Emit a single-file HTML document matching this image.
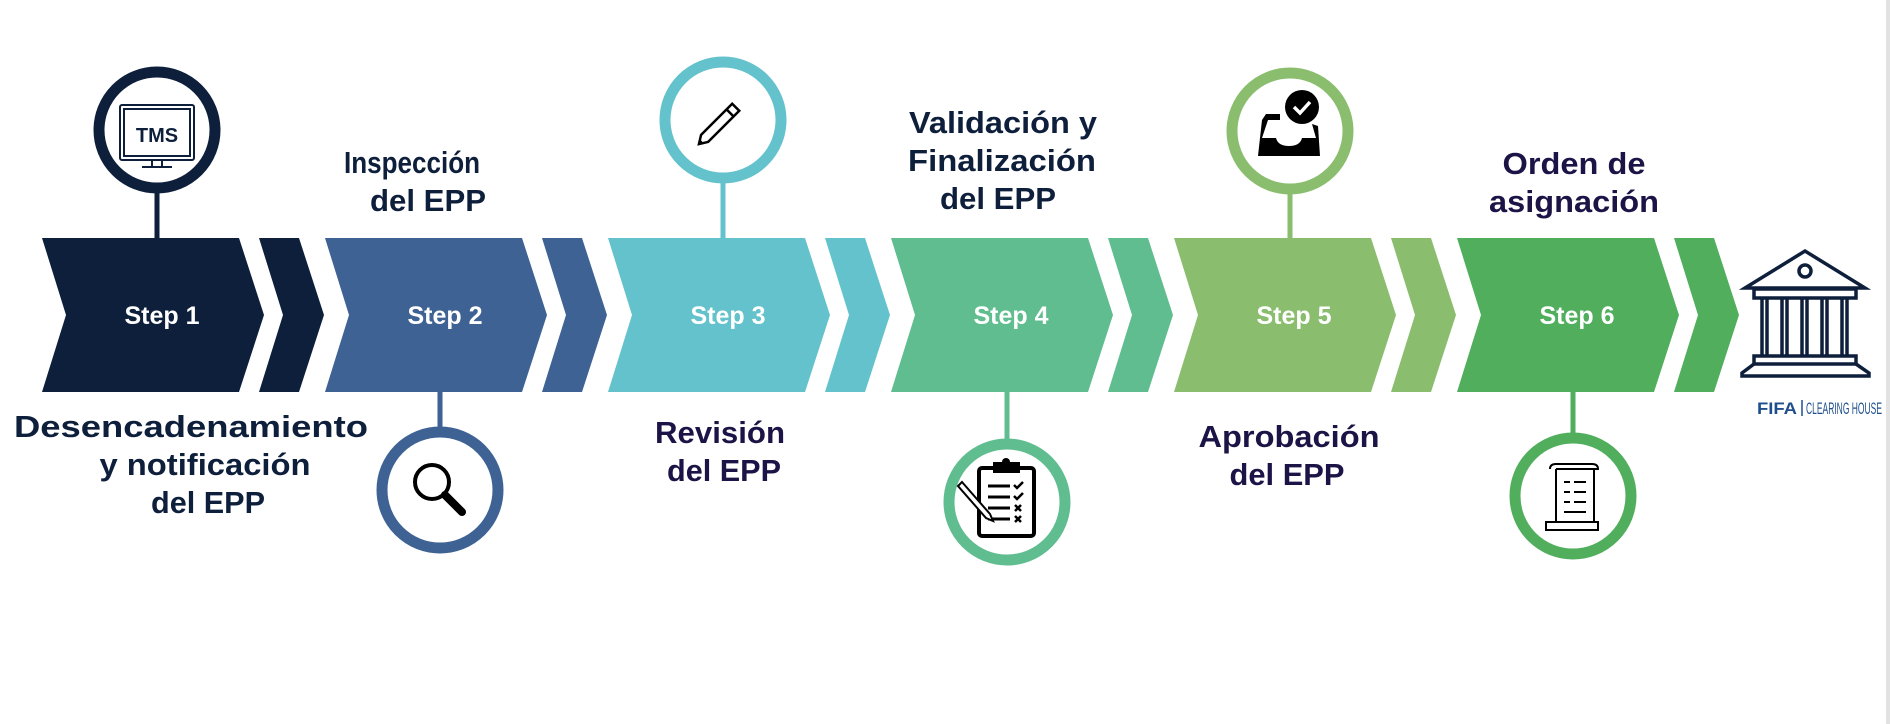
<!DOCTYPE html>
<html><head><meta charset="utf-8"><style>
html,body{margin:0;padding:0;background:#fff;}
svg{display:block;}
text{font-family:"Liberation Sans",Arial,sans-serif;font-weight:bold;}
</style></head><body>
<svg width="1890" height="724" viewBox="0 0 1890 724" xmlns="http://www.w3.org/2000/svg">
<rect x="1886" y="0" width="4" height="724" fill="#e2e2e2"/>
<g>
<path d="M42,238 L239,238 L264,315 L239,392 L42,392 L66,315 Z" fill="#0e1f3b"/>
<path d="M259,238 L299,238 L324,315 L299,392 L259,392 L283,315 Z" fill="#0e1f3b"/>
<path d="M325,238 L522,238 L547,315 L522,392 L325,392 L349,315 Z" fill="#3e6293"/>
<path d="M542,238 L582,238 L607,315 L582,392 L542,392 L566,315 Z" fill="#3e6293"/>
<path d="M608,238 L805,238 L830,315 L805,392 L608,392 L632,315 Z" fill="#63c2cc"/>
<path d="M825,238 L865,238 L890,315 L865,392 L825,392 L849,315 Z" fill="#63c2cc"/>
<path d="M891,238 L1088,238 L1113,315 L1088,392 L891,392 L915,315 Z" fill="#60bd8f"/>
<path d="M1108,238 L1148,238 L1173,315 L1148,392 L1108,392 L1132,315 Z" fill="#60bd8f"/>
<path d="M1174,238 L1371,238 L1396,315 L1371,392 L1174,392 L1198,315 Z" fill="#8abe6e"/>
<path d="M1391,238 L1431,238 L1456,315 L1431,392 L1391,392 L1415,315 Z" fill="#8abe6e"/>
<path d="M1457,238 L1654,238 L1679,315 L1654,392 L1457,392 L1481,315 Z" fill="#50ae5d"/>
<path d="M1674,238 L1714,238 L1739,315 L1714,392 L1674,392 L1698,315 Z" fill="#50ae5d"/>
</g>
<g fill="#fff" font-size="25" text-anchor="middle">
<text x="162" y="324">Step 1</text>
<text x="445" y="324">Step 2</text>
<text x="728" y="324">Step 3</text>
<text x="1011" y="324">Step 4</text>
<text x="1294" y="324">Step 5</text>
<text x="1577" y="324">Step 6</text>
</g>
<g fill="#fff" stroke-width="11">
<line x1="157" y1="190" x2="157" y2="238" stroke="#0e1f3b" stroke-width="5"/>
<circle cx="157" cy="130" r="58" stroke="#0e1f3b"/>
<line x1="440" y1="392" x2="440" y2="434" stroke="#3e6293" stroke-width="5"/>
<circle cx="440" cy="490" r="58" stroke="#3e6293"/>
<line x1="723" y1="178" x2="723" y2="238" stroke="#63c2cc" stroke-width="5"/>
<circle cx="723" cy="120" r="58" stroke="#63c2cc"/>
<line x1="1007" y1="392" x2="1007" y2="444" stroke="#60bd8f" stroke-width="5"/>
<circle cx="1007" cy="502" r="58" stroke="#60bd8f"/>
<line x1="1290" y1="190" x2="1290" y2="238" stroke="#8abe6e" stroke-width="5"/>
<circle cx="1290" cy="131" r="58" stroke="#8abe6e"/>
<line x1="1573" y1="392" x2="1573" y2="440" stroke="#50ae5d" stroke-width="5"/>
<circle cx="1573" cy="496" r="58" stroke="#50ae5d"/>
</g>
<g stroke="#0e1f3b" fill="none" stroke-width="2">
<rect x="120" y="105" width="74" height="55" rx="2"/>
<rect x="124" y="109" width="66" height="47"/>
<line x1="152" y1="160" x2="152" y2="167"/><line x1="162" y1="160" x2="162" y2="167"/>
<line x1="142" y1="167" x2="172" y2="167"/>
</g>
<text x="157" y="142" font-size="20" fill="#0e1f3b" text-anchor="middle">TMS</text>
<g stroke="#000" fill="none">
<circle cx="432" cy="482" r="17" stroke-width="4"/>
<line x1="445" y1="495" x2="462" y2="512" stroke-width="8" stroke-linecap="round"/>
</g>
<g transform="translate(723,120) rotate(-45)">
<path d="M-26,-5 L18,-5 L18,5 L-26,5 L-34,0 Z" fill="#fff" stroke="#000" stroke-width="2.5"/>
<line x1="10" y1="-5" x2="10" y2="5" stroke="#000" stroke-width="2.5"/>
<path d="M-34,0 L-30,-2 L-30,2 Z" fill="#000"/>
</g>
<g>
<rect x="979" y="468" width="55" height="68" rx="3" fill="#fff" stroke="#000" stroke-width="4"/>
<rect x="993" y="462" width="27" height="11" fill="#000"/>
<circle cx="1006" cy="462" r="4" fill="#000"/>
<g stroke="#000" stroke-width="3">
<line x1="988" y1="486" x2="1010" y2="486"/><line x1="988" y1="497" x2="1010" y2="497"/>
<line x1="988" y1="508" x2="1010" y2="508"/><line x1="988" y1="519" x2="1010" y2="519"/>
<path d="M1014,485 l3,3 l6,-6 M1014,496 l3,3 l6,-6 M1015,505 l6,6 M1021,505 l-6,6 M1015,516 l6,6 M1021,516 l-6,6" fill="none" stroke-width="2.5"/>
</g>
<path d="M962,482 L990,514 L993,521 L986,518 L958,486 Z" fill="#fff" stroke="#000" stroke-width="2"/>
</g>
<g>
<path d="M1266,114 L1280,114 L1280,120 L1268,120 L1262,138 L1276,138 Q1278,146 1289,146 Q1300,146 1302,138 L1316,138 L1312,124 L1318,126 L1320,156 L1258,156 L1262,120 Z" fill="#000"/>
<circle cx="1302" cy="107" r="17" fill="#000"/>
<path d="M1294,107 l6,6 l10,-11" fill="none" stroke="#fff" stroke-width="3.5"/>
</g>
<g fill="#fff" stroke="#000" stroke-width="2">
<path d="M1556,469 L1594,469 L1594,524 L1556,524 Z"/>
<path d="M1550,469 Q1550,464 1556,464 L1592,464 Q1598,464 1598,469 L1556,469" />
<rect x="1546" y="522" width="52" height="8"/>
<line x1="1564" y1="482" x2="1570" y2="482"/><line x1="1574" y1="482" x2="1586" y2="482"/>
<line x1="1564" y1="492" x2="1570" y2="492"/><line x1="1574" y1="492" x2="1586" y2="492"/>
<line x1="1564" y1="502" x2="1570" y2="502"/><line x1="1574" y1="502" x2="1586" y2="502"/>
<line x1="1564" y1="512" x2="1586" y2="512"/>
</g>
<g fill="none" stroke="#0e1f3b" stroke-width="3.5">
<path d="M1745,288 L1805,251 L1865,288 Z"/>
<circle cx="1805" cy="271" r="6"/>
<rect x="1754" y="289" width="102" height="9"/>
<path d="M1762,298 v58 M1767,298 v58 M1782,298 v58 M1787,298 v58 M1802,298 v58 M1807,298 v58 M1822,298 v58 M1827,298 v58 M1842,298 v58 M1847,298 v58"/>
<rect x="1754" y="356" width="102" height="8"/>
<path d="M1754,364 L1742,373 L1742,376 L1869,376 L1869,373 L1856,364"/>
</g>
<text x="1757" y="414" font-size="17" fill="#1f4e8c" textLength="40" lengthAdjust="spacingAndGlyphs">FIFA</text>
<line x1="1802" y1="400" x2="1802" y2="416" stroke="#1f4e8c" stroke-width="1.5"/>
<text x="1806" y="414" font-size="17" fill="#1f4e8c" style="font-weight:normal" textLength="76" lengthAdjust="spacingAndGlyphs">CLEARING HOUSE</text>
<g font-size="31" fill="#0e1f3b" text-anchor="middle" lengthAdjust="spacingAndGlyphs">
<text x="191" y="437" textLength="354" lengthAdjust="spacingAndGlyphs">Desencadenamiento</text>
<text x="205" y="475" textLength="211" lengthAdjust="spacingAndGlyphs">y notificación</text>
<text x="208" y="513" textLength="114" lengthAdjust="spacingAndGlyphs">del EPP</text>
<text x="412" y="173" textLength="136" lengthAdjust="spacingAndGlyphs">Inspección</text>
<text x="428" y="211" textLength="116" lengthAdjust="spacingAndGlyphs">del EPP</text>
<text x="1003" y="133" textLength="188" lengthAdjust="spacingAndGlyphs">Validación y</text>
<text x="1002" y="171" textLength="188" lengthAdjust="spacingAndGlyphs">Finalización</text>
<text x="998" y="209" textLength="116" lengthAdjust="spacingAndGlyphs">del EPP</text>
</g>
<g font-size="31" fill="#1c1446" text-anchor="middle">
<text x="720" y="443" textLength="130" lengthAdjust="spacingAndGlyphs">Revisión</text>
<text x="724" y="481" textLength="114" lengthAdjust="spacingAndGlyphs">del EPP</text>
<text x="1289" y="447" textLength="181" lengthAdjust="spacingAndGlyphs">Aprobación</text>
<text x="1287" y="485" textLength="115" lengthAdjust="spacingAndGlyphs">del EPP</text>
<text x="1574" y="174" textLength="143" lengthAdjust="spacingAndGlyphs">Orden de</text>
<text x="1574" y="212" textLength="170" lengthAdjust="spacingAndGlyphs">asignación</text>
</g>
</svg>
</body></html>
